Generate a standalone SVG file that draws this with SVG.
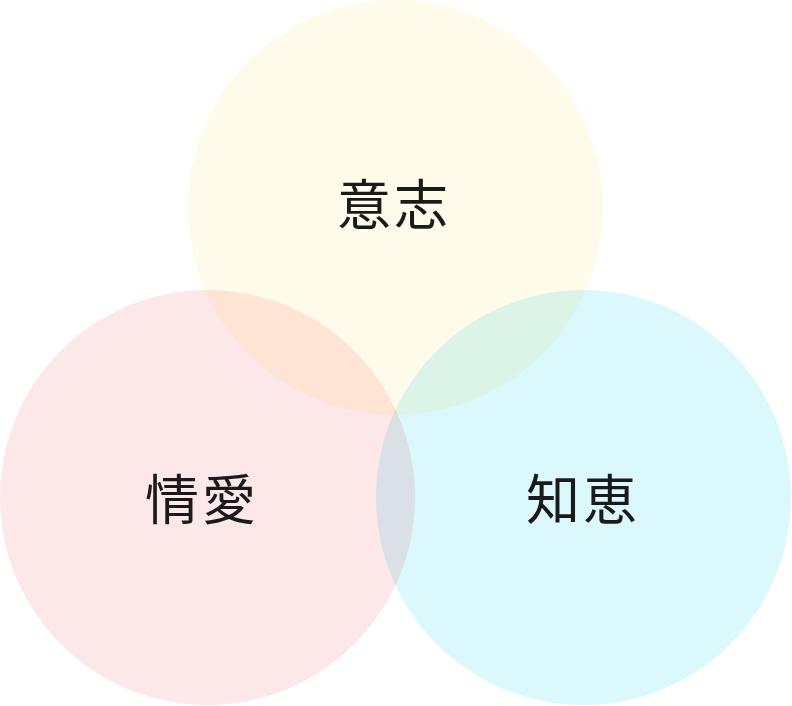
<svg xmlns="http://www.w3.org/2000/svg" width="792" height="706" viewBox="0 0 792 706">
<style>
.c{mix-blend-mode:multiply}
.t{font-family:"Noto Sans CJK JP","Noto Sans CJK SC",sans-serif;font-size:54px;fill:#1a1a1a;text-anchor:middle;dominant-baseline:central;letter-spacing:3px}
</style>
<rect width="792" height="706" fill="#ffffff"/>
<g id="will"><circle class="c" cx="395.5" cy="207.5" r="207.5" fill="#FFFBEA"/></g>
<g id="love"><circle class="c" cx="207.5" cy="497.5" r="207.5" fill="#FDE8E9"/></g>
<g id="wisdom"><circle class="c" cx="583.5" cy="497.5" r="207.5" fill="#DBF8FC"/></g>
<g id="connectors"></g>
<g id="labels">
<text class="t" x="394" y="201">意志</text>
<text class="t" x="202" y="496">情愛</text>
<text class="t" x="583" y="496">知恵</text>
</g>
</svg>
